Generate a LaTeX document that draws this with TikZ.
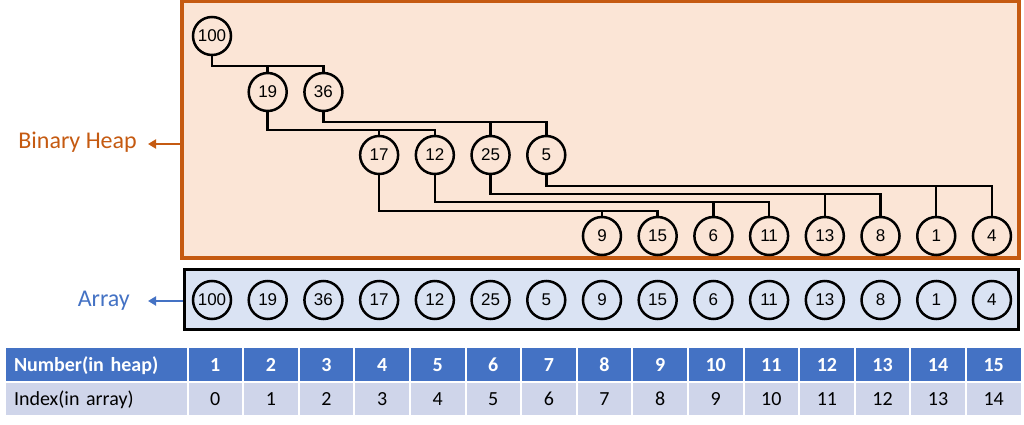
\documentclass[tikz,border=0pt]{standalone}
\usepackage{fontspec}
\setmainfont{Carlito}
\newfontfamily\arialf{Liberation Sans}
\usetikzlibrary{arrows.meta,calc}
\definecolor{heaporange}{HTML}{C55A11}
\definecolor{heapfill}{HTML}{FBE5D6}
\definecolor{arrblue}{HTML}{4472C4}
\definecolor{arrfill}{HTML}{DAE3F3}
\definecolor{rowfill}{HTML}{CFD5EA}
\tikzset{
  keynode/.style={circle,draw=black,line width=2.5pt,minimum size=38pt,inner sep=0pt,font=\arialf\fontsize{17}{17}\selectfont},
  conn/.style={draw=black,line width=2.5pt},
  lbl/.style={inner sep=0pt,font=\fontsize{24}{28}\selectfont},
  pointer/.style={line width=2.8pt,-{Triangle[length=8pt,width=9pt]}},
  headcell/.style={fill=arrblue,text=white,inner sep=0pt,minimum width=53.6pt,minimum height=33pt,text height=13pt,text depth=0pt,font=\bfseries\fontsize{20}{24}\selectfont},
  rowcell/.style={fill=rowfill,text=black,inner sep=0pt,minimum width=53.6pt,minimum height=32pt,text height=13pt,text depth=0pt,font=\fontsize{20}{24}\selectfont}
}
\begin{document}
\begin{tikzpicture}[x=1pt,y=-1pt]
\useasboundingbox (0,0) rectangle (1024,425);
% heap box
\node[draw=heaporange,fill=heapfill,line width=3.2pt,minimum width=837pt,minimum height=256.5pt,inner sep=0pt] (hb) at (600.5,129.75) {};
% array box
\node[draw=black,fill=arrfill,line width=3.2pt,minimum width=834pt,minimum height=60pt,inner sep=0pt] (ab) at (601.5,299.5) {};
% heap nodes
\foreach \v/\yy [count=\i from 0] in {100/36,19/92,36/92,17/155,12/155,25/155,5/155,9/236,15/236,6/236,11/236,13/236,8/236,1/236,4/236}{
  \node[keynode] (h\i) at ({212+55.71*\i},\yy) {\v};
  \node[keynode] (a\i) at ({212+55.71*\i},300) {\v};
}
% heap connectors
\foreach \p/\b in {0/66,1/130,2/122,3/211,4/202,5/194,6/186}{
  \pgfmathtruncatemacro\lc{2*\p+1}
  \pgfmathtruncatemacro\rc{2*\p+2}
  \draw[conn] (h\p.south) |- (h\rc.north |- 0,\b) -- (h\rc.north);
  \draw[conn] (h\lc.north) -- (h\lc.north |- 0,\b);
}
% labels
\node[lbl,text=heaporange,anchor=base east] (bhl) at (137,148) {Binary Heap};
\draw[pointer,draw=heaporange,fill=heaporange] (hb.west |- 0,144) -- (148,144);
\node[lbl,text=arrblue,anchor=base east] (arl) at (130,306) {Array};
\draw[pointer,draw=arrblue,fill=arrblue] (ab.west |- 0,301) -- (148,301);
% table
\node[headcell,minimum width=180.5pt,text width=164.5pt,align=left] (th) at (96.25,364.5) {Number(in heap)};
\node[rowcell,minimum width=180.5pt,text width=164.5pt,align=left] (tr) at (96.25,399) {Index(in array)};
\foreach \k in {1,...,15}{
  \pgfmathtruncatemacro\idx{\k-1}
  \node[headcell] (th\k) at ({187.5+55.6*(\k-0.5)},364.5) {\k};
  \node[rowcell] (tr\k) at ({187.5+55.6*(\k-0.5)},399) {\idx};
}
\end{tikzpicture}
\end{document}
